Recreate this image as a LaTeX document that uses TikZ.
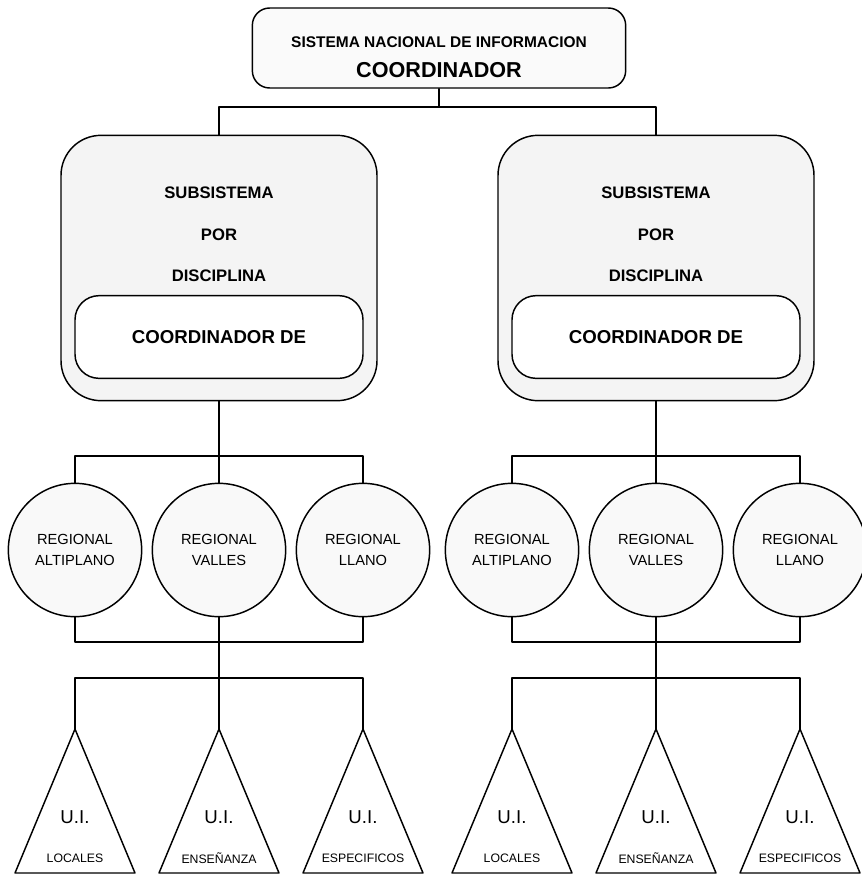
\documentclass[tikz,border=0pt]{standalone}
\usepackage{fontspec}
\setmainfont{Liberation Sans}
\usetikzlibrary{positioning}
\tikzset{
  topbox/.style={draw, rounded corners=13pt, minimum width=280pt, minimum height=60pt, fill=gray!4},
  subbox/.style={draw, rounded corners=30pt, minimum width=237pt, minimum height=199pt, fill=gray!9},
  coordbox/.style={draw, rounded corners=18pt, minimum width=216pt, minimum height=62pt, fill=white, font=\fontsize{14}{17}\selectfont\bfseries},
  subtext/.style={font=\fontsize{12.5}{15}\selectfont\bfseries, inner sep=0pt},
  regional/.style={draw, circle, minimum size=100pt, inner sep=0pt, fill=gray!5, align=center, font=\fontsize{11}{15.75}\selectfont},
  uitext/.style={font=\fontsize{14}{17}\selectfont, inner sep=0pt},
  uilab/.style={font=\fontsize{9.2}{11}\selectfont, inner sep=0pt}
}
\begin{document}
\begin{tikzpicture}[x=0.75pt,y=-0.75pt,line width=1.1pt,line join=round,line cap=round]
\useasboundingbox (0,0) rectangle (861,875);
% sistema nacional
\node[topbox] (sni) at (439,48) {};
\node[font=\fontsize{11.6}{14}\selectfont\bfseries, inner sep=0pt] (sniT) at (439,42) {SISTEMA NACIONAL DE INFORMACION};
\node[font=\fontsize{16.2}{19}\selectfont\bfseries, inner sep=0pt] (sniC) at (439,70) {COORDINADOR};
\coordinate (busTop) at (439,107);
\foreach \s/\cx in {A/219,B/656}{
  \node[subbox] (sub\s) at (\cx,268) {};
  \node[subtext] (sub\s t1) at (\cx,193) {SUBSISTEMA};
  \node[subtext] (sub\s t2) at (\cx,235) {POR};
  \node[subtext] (sub\s t3) at (\cx,276) {DISCIPLINA};
  \node[coordbox] (coord\s) at (\cx,337) {COORDINADOR DE};
  \coordinate (bus\s1) at (\cx,456);
  \coordinate (bus\s2) at (\cx,642);
  \coordinate (bus\s3) at (\cx,678);
  % regionales
  \foreach \k/\dx/\lab in {1/-144/ALTIPLANO,2/0/VALLES,3/144/LLANO}
    \node[regional] (reg\s\k) at (\cx+\dx,550) {REGIONAL\\\lab};
  % unidades de informacion
  \foreach \k/\dx/\lab in {1/-144/LOCALES,2/0/ENSEÑANZA,3/144/ESPECIFICOS}{
    \coordinate (tri\s\k) at (\cx+\dx,729);
    \draw[fill=white] (tri\s\k) -- ++(-60,144) -- ++(120,0) -- cycle;
    \node[uitext] (ui\s\k) at (\cx+\dx,817) {U.I.};
    \node[uilab] (lab\s\k) at (\cx+\dx,858) {\lab};
  }
  \draw (sub\s.south) -- (bus\s1);
  \draw (reg\s1.north) |- (bus\s1) -| (reg\s3.north);
  \draw (bus\s1) -- (reg\s2.north);
  \draw (reg\s1.south) |- (bus\s2) -| (reg\s3.south);
  \draw (reg\s2.south) -- (bus\s3);
  \draw (tri\s1) |- (bus\s3) -| (tri\s3);
  \draw (bus\s3) -- (tri\s2);
}
\draw (sni.south) -- (busTop);
\draw (subA.north) |- (busTop) -| (subB.north);
\end{tikzpicture}
\end{document}
